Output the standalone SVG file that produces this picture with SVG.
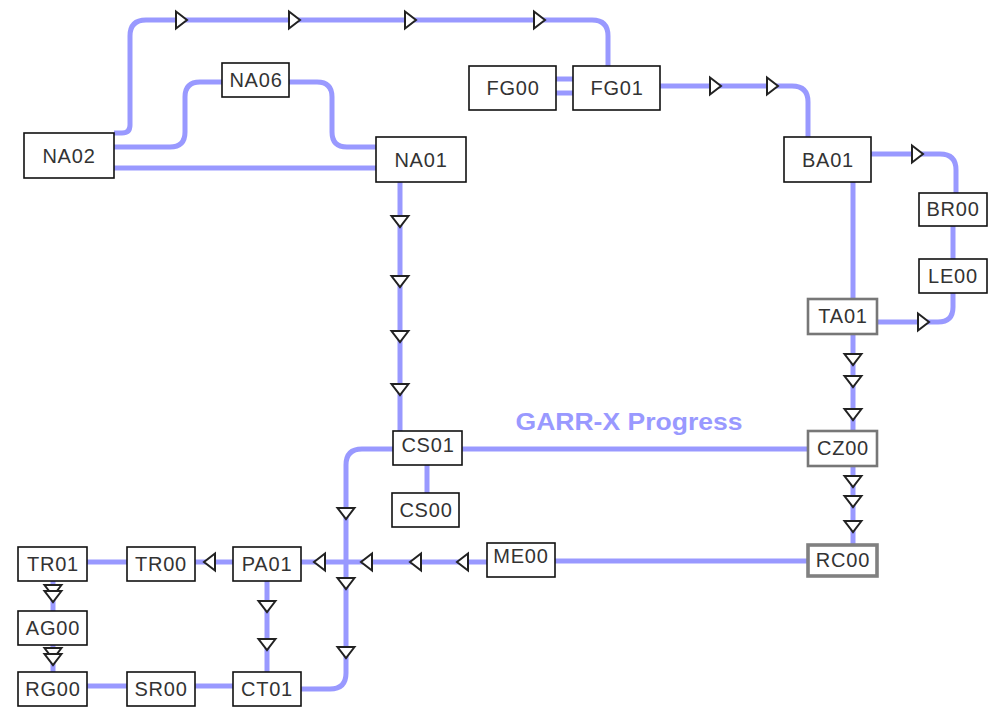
<svg xmlns="http://www.w3.org/2000/svg" xmlns:xlink="http://www.w3.org/1999/xlink" width="1000" height="707" viewBox="0 0 1000 707">
<style>
.bg{fill:#ffffff}
.c{fill:none;stroke:#9999ff;stroke-width:5;stroke-linecap:butt}
.n{fill:#ffffff;stroke:#111111;stroke-width:1.6}
.g{fill:#ffffff;stroke:#777777;stroke-width:2.6}
.gt{fill:#ffffff;stroke:#808080;stroke-width:3.6}
.t{font-family:"Liberation Sans",Arial,sans-serif;font-size:20px;fill:#333333;text-anchor:middle;letter-spacing:0.8px}
.a{fill:#ffffff;stroke:#222222;stroke-width:2;stroke-linejoin:miter}
.lbl{font-family:"Liberation Sans",Arial,sans-serif;font-size:24px;font-weight:bold;fill:#9999ff;text-anchor:middle}
</style>
<defs>
<path id="ar" class="a" d="M-5,-8.5 L6,0 L-5,8.5 Z"/>
</defs>
<rect class="bg" x="0" y="0" width="1000" height="707"/>
<g id="connectors">
<path class="c" d="M114,133 L122,133 Q130,133 130,125 L130,36 Q130,20 146,20 L592,20 Q608,20 608,36 L608,66"/>
<path class="c" d="M114,147 L170,147 Q185,147 185,132 L185,97 Q185,82 200,82 L222,82"/>
<path class="c" d="M289,82 L317,82 Q332,82 332,97 L332,132 Q332,147 347,147 L376,147"/>
<path class="c" d="M114,168 L376,168"/>
<path class="c" d="M400,182 L400,431"/>
<path class="c" d="M556,79 L573,79 M556,93 L573,93"/>
<path class="c" d="M660,86 L792,86 Q808,86 808,102 L808,137"/>
<path class="c" d="M871,154 L940,154 Q956,154 956,170 L956,193"/>
<path class="c" d="M953,226 L953,259"/>
<path class="c" d="M953,293 L953,307 Q953,322 938,322 L877,322"/>
<path class="c" d="M853,182 L853,299"/>
<path class="c" d="M853,334 L853,431"/>
<path class="c" d="M853,466 L853,545"/>
<path class="c" d="M462,449 L808,449"/>
<path class="c" d="M427,465 L427,493"/>
<path class="c" d="M393,449 L362,449 Q346,449 346,465 L346,673 Q346,689 330,689 L301,689"/>
<path class="c" d="M808,561 L555,561"/>
<path class="c" d="M487,562 L301,562"/>
<path class="c" d="M233,562 L195,562"/>
<path class="c" d="M127,562 L87,562"/>
<path class="c" d="M53,581 L53,611"/>
<path class="c" d="M53,645 L53,672"/>
<path class="c" d="M267,581 L267,672"/>
<path class="c" d="M87,686 L127,686"/>
<path class="c" d="M195,686 L233,686"/>
<g id="arrows">
<use xlink:href="#ar" transform="translate(181,20)"/>
<use xlink:href="#ar" transform="translate(294,20)"/>
<use xlink:href="#ar" transform="translate(410,20)"/>
<use xlink:href="#ar" transform="translate(539,20)"/>
<use xlink:href="#ar" transform="translate(715,86)"/>
<use xlink:href="#ar" transform="translate(772,86)"/>
<use xlink:href="#ar" transform="translate(917,154)"/>
<use xlink:href="#ar" transform="translate(923,322)"/>
<use xlink:href="#ar" transform="translate(400,221) rotate(90)"/>
<use xlink:href="#ar" transform="translate(400,281) rotate(90)"/>
<use xlink:href="#ar" transform="translate(400,336) rotate(90)"/>
<use xlink:href="#ar" transform="translate(400,389) rotate(90)"/>
<use xlink:href="#ar" transform="translate(853,359) rotate(90)"/>
<use xlink:href="#ar" transform="translate(853,381) rotate(90)"/>
<use xlink:href="#ar" transform="translate(853,414) rotate(90)"/>
<use xlink:href="#ar" transform="translate(853,481) rotate(90)"/>
<use xlink:href="#ar" transform="translate(853,501) rotate(90)"/>
<use xlink:href="#ar" transform="translate(853,526) rotate(90)"/>
<use xlink:href="#ar" transform="translate(346,513) rotate(90)"/>
<use xlink:href="#ar" transform="translate(346,583) rotate(90)"/>
<use xlink:href="#ar" transform="translate(346,652) rotate(90)"/>
<use xlink:href="#ar" transform="translate(320,562) rotate(180)"/>
<use xlink:href="#ar" transform="translate(367,562) rotate(180)"/>
<use xlink:href="#ar" transform="translate(416,562) rotate(180)"/>
<use xlink:href="#ar" transform="translate(463,562) rotate(180)"/>
<use xlink:href="#ar" transform="translate(210,562) rotate(180)"/>
<use xlink:href="#ar" transform="translate(267,606) rotate(90)"/>
<use xlink:href="#ar" transform="translate(267,644) rotate(90)"/>
<use xlink:href="#ar" transform="translate(53,590) rotate(90)"/>
<use xlink:href="#ar" transform="translate(53,596) rotate(90)"/>
<use xlink:href="#ar" transform="translate(53,653) rotate(90)"/>
<use xlink:href="#ar" transform="translate(53,659) rotate(90)"/>
</g>
</g>
<text class="lbl" x="629" y="430" textLength="227" lengthAdjust="spacingAndGlyphs">GARR-X Progress</text>
<g id="NA02"><rect class="n" x="24" y="133" width="90" height="45"/><text class="t" x="69" y="163">NA02</text></g>
<g id="NA06"><rect class="n" x="222" y="63" width="67" height="34"/><text class="t" x="256" y="87">NA06</text></g>
<g id="NA01"><rect class="n" x="376" y="137" width="90" height="45"/><text class="t" x="421" y="167">NA01</text></g>
<g id="FG00"><rect class="n" x="469" y="66" width="87" height="44"/><text class="t" x="513" y="95">FG00</text></g>
<g id="FG01"><rect class="n" x="573" y="66" width="87" height="44"/><text class="t" x="617" y="95">FG01</text></g>
<g id="BA01"><rect class="n" x="784" y="137" width="87" height="45"/><text class="t" x="828" y="167">BA01</text></g>
<g id="BR00"><rect class="n" x="919" y="193" width="68" height="33"/><text class="t" x="953" y="216">BR00</text></g>
<g id="LE00"><rect class="n" x="919" y="259" width="68" height="34"/><text class="t" x="953" y="283">LE00</text></g>
<g id="TA01"><rect class="g" x="808" y="299" width="69" height="35"/><text class="t" x="843" y="323">TA01</text></g>
<g id="CZ00"><rect class="g" x="808" y="431" width="69" height="35"/><text class="t" x="843" y="455">CZ00</text></g>
<g id="RC00"><rect class="gt" x="808" y="545" width="69" height="31"/><text class="t" x="843" y="567">RC00</text></g>
<g id="CS01"><rect class="n" x="393" y="431" width="69" height="34"/><text class="t" x="428" y="452">CS01</text></g>
<g id="CS00"><rect class="n" x="392" y="493" width="67" height="34"/><text class="t" x="426" y="517">CS00</text></g>
<g id="ME00"><rect class="n" x="487" y="543" width="68" height="34"/><text class="t" x="521" y="563">ME00</text></g>
<g id="TR01"><rect class="n" x="18" y="547" width="69" height="34"/><text class="t" x="53" y="571">TR01</text></g>
<g id="TR00"><rect class="n" x="127" y="547" width="68" height="34"/><text class="t" x="161" y="571">TR00</text></g>
<g id="PA01"><rect class="n" x="233" y="547" width="68" height="34"/><text class="t" x="267" y="571">PA01</text></g>
<g id="AG00"><rect class="n" x="18" y="611" width="69" height="34"/><text class="t" x="53" y="635">AG00</text></g>
<g id="RG00"><rect class="n" x="18" y="672" width="69" height="34"/><text class="t" x="53" y="696">RG00</text></g>
<g id="SR00"><rect class="n" x="127" y="672" width="68" height="34"/><text class="t" x="161" y="696">SR00</text></g>
<g id="CT01"><rect class="n" x="233" y="672" width="68" height="34"/><text class="t" x="267" y="696">CT01</text></g>
</svg>
